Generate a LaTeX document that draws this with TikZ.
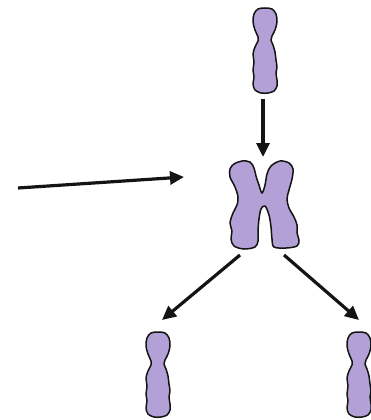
\documentclass[tikz,border=0pt]{standalone}
\usetikzlibrary{arrows.meta}
\definecolor{ink}{gray}{0.08}
\definecolor{lilac}{RGB}{178,160,214}

\tikzset{
  chromo/.style={draw=ink, fill=lilac, line width=1.5pt, line join=round},
  pull/.style={ink, line width=3.2pt, -{Triangle[length=14pt,width=13pt]}}
}

% one unpaired chromosome, centred at #1
\newcommand{\onechromo}[1]{%
  \draw[chromo, shift={#1}] plot[smooth cycle, tension=0.55] coordinates {
    (0,-42) (7,-41) (11,-36) (12,-28) (10,-20) (7,-14) (6,-10) (8,-5)
    (10,2) (11,10) (12,17) (11,23) (12,30) (12,36) (9,41) (3,43)
    (-4,43) (-10,40) (-12,34) (-11,27) (-12,20) (-11,12) (-12,4) (-10,-3)
    (-7,-9) (-7,-13) (-10,-20) (-12,-28) (-11,-36) (-7,-41)};}

\begin{document}
\begin{tikzpicture}[x=1pt, y=-1pt]
  \useasboundingbox (0,0) rectangle (371,420);

  % before copying
  \onechromo{(265,50)}
  % the copied pair, joined at the centromere
  \draw[chromo, shift={(264,205)}] plot[smooth cycle, tension=0.55] coordinates {
    (-30,-41) (-22,-44) (-14,-43) (-10,-37) (-8,-29) (-5,-20) (-2,-12)
    (1,-20) (3,-31) (7,-39) (16,-44) (25,-42) (29,-36) (28,-26)
    (25,-15) (23,-6) (25,3) (30,12) (33,20) (33,28) (35,35) (33,41)
    (22,43) (10,42) (8,34) (7,22) (5,10) (1,1) (-3,4) (-5,14)
    (-6,26) (-6,36) (-9,42) (-20,44) (-30,41) (-33,34) (-32,26) (-34,18)
    (-31,8) (-27,0) (-26,-8) (-29,-18) (-34,-28) (-34,-36)};
  % after separation
  \onechromo{(158,374)}
  \onechromo{(359,374)}

  % arrow ends
  \coordinate (topEnd) at (263,99);
  \coordinate (pairTop) at (263,157);
  \coordinate (pointer) at (18,188);
  \coordinate (pairSide) at (184,177);
  \coordinate (pairLeft) at (240,255);
  \coordinate (pairRight) at (284,255);
  \coordinate (leftTop) at (162,320);
  \coordinate (rightTop) at (359,320);

  \draw[pull] (topEnd) -- (pairTop);
  \draw[pull] (pointer) -- (pairSide);
  \draw[pull] (pairLeft) -- (leftTop);
  \draw[pull] (pairRight) -- (rightTop);
\end{tikzpicture}
\end{document}
